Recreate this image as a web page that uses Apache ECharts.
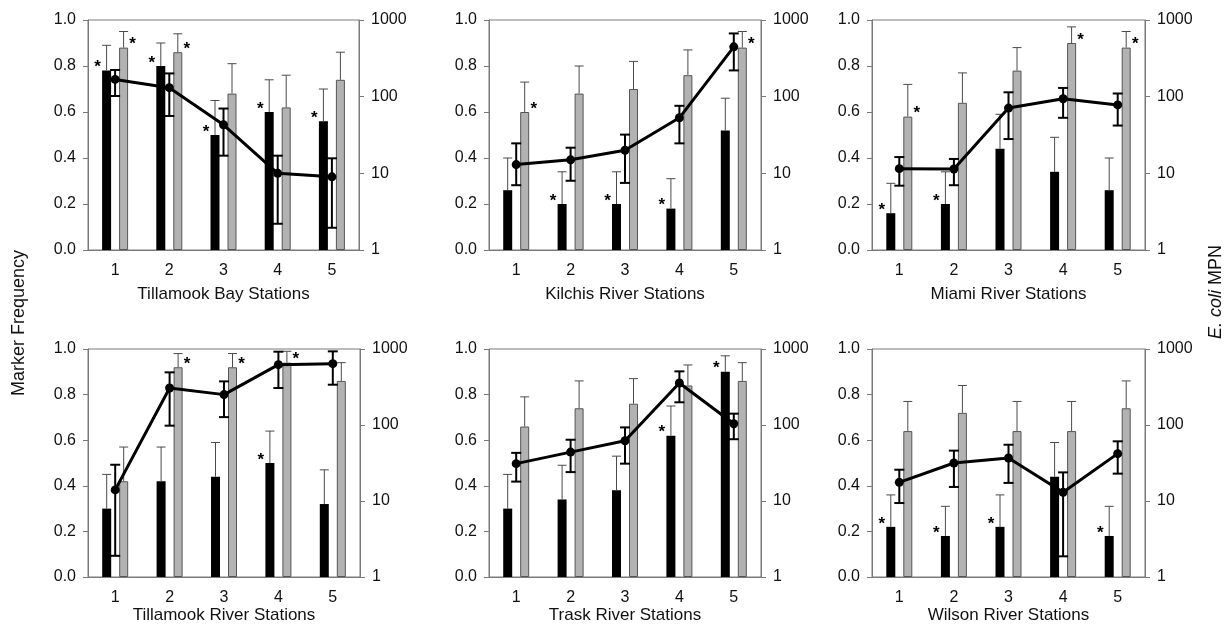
<!DOCTYPE html>
<html><head><meta charset="utf-8">
<script src="https://cdn.jsdelivr.net/npm/echarts@6/dist/echarts.min.js"></script>
<style>html,body{margin:0;padding:0;background:#fff}#c{width:1226px;height:626px}</style>
</head><body><div id="c"></div>
<script>
// ---------- data ----------
const stations = ['1', '2', '3', '4', '5'];
const panelTitles = ['Tillamook Bay Stations', 'Kilchis River Stations', 'Miami River Stations',
  'Tillamook River Stations', 'Trask River Stations', 'Wilson River Stations'];
const freqAxisName = 'Marker Frequency';
const mpnAxisName = 'E. coli MPN';

// black bars (marker frequency) and their upper error limits
const blackFreq = [
  [0.78, 0.80, 0.50, 0.60, 0.56],
  [0.26, 0.20, 0.20, 0.18, 0.52],
  [0.16, 0.20, 0.44, 0.34, 0.26],
  [0.30, 0.42, 0.44, 0.50, 0.32],
  [0.30, 0.34, 0.38, 0.62, 0.90],
  [0.22, 0.18, 0.22, 0.44, 0.18]
];
const blackUpper = [
  [0.89, 0.90, 0.65, 0.74, 0.70],
  [0.40, 0.34, 0.34, 0.31, 0.66],
  [0.29, 0.34, 0.59, 0.49, 0.40],
  [0.45, 0.57, 0.59, 0.64, 0.47],
  [0.45, 0.49, 0.53, 0.75, 0.97],
  [0.36, 0.31, 0.36, 0.59, 0.31]
];
// grey bars (marker frequency) and their upper error limits
const greyFreq = [
  [0.88, 0.86, 0.68, 0.62, 0.74],
  [0.60, 0.68, 0.70, 0.76, 0.88],
  [0.58, 0.64, 0.78, 0.90, 0.88],
  [0.42, 0.92, 0.92, 0.94, 0.86],
  [0.66, 0.74, 0.76, 0.84, 0.86],
  [0.64, 0.72, 0.64, 0.64, 0.74]
];
const greyUpper = [
  [0.95, 0.94, 0.81, 0.76, 0.86],
  [0.73, 0.80, 0.82, 0.87, 0.95],
  [0.72, 0.77, 0.88, 0.97, 0.95],
  [0.57, 0.98, 0.98, 0.99, 0.94],
  [0.79, 0.86, 0.87, 0.93, 0.94],
  [0.77, 0.84, 0.77, 0.77, 0.86]
];
// E. coli MPN (line, log axis) with lower / upper error limits
const mpn = [
  [168, 131, 43, 10, 9],
  [13, 15, 20, 53, 447],
  [11.5, 11.4, 71, 94, 78],
  [14, 307, 251, 622, 641],
  [31, 44, 62, 357, 104],
  [17.6, 31.6, 36.8, 13, 42]
];
const mpnUpper = [
  [223, 201, 70, 17, 15.7],
  [24.6, 21.6, 32, 76, 668],
  [16.3, 15.4, 114, 130, 110],
  [30, 493, 375, 922, 931],
  [43, 64, 93, 508, 141],
  [25.8, 46, 55, 23.8, 61]
];
const mpnLower = [
  [102, 56, 17, 2.2, 1.95],
  [7, 8, 7.5, 24.6, 220],
  [6.9, 7, 28, 53, 42],
  [1.9, 98, 127, 307, 339],
  [18, 24, 31, 199, 65],
  [9.4, 15.3, 17.3, 1.87, 22.9]
];
// significance asterisks (1 = shown)
const blackStar = [
  [1, 1, 1, 1, 1],
  [0, 1, 1, 1, 0],
  [1, 1, 0, 0, 0],
  [0, 0, 0, 1, 0],
  [0, 0, 0, 1, 1],
  [1, 1, 1, 0, 1]
];
const greyStar = [
  [1, 1, 0, 0, 0],
  [1, 0, 0, 0, 1],
  [1, 0, 0, 1, 1],
  [0, 1, 1, 1, 0],
  [0, 0, 0, 0, 0],
  [0, 0, 0, 0, 0]
];

// ---------- layout / style ----------
const FONT = '"Liberation Sans", Arial, sans-serif';
const AXIS_COLOR = '#7a7a7a';
const TEXT_COLOR = '#111';
const BAR_W = 9, BAR_GAP = 8;
const HALF = (BAR_W + BAR_GAP) / 2;
const boxes = [
  { left: 88, top: 20, width: 271, height: 230 },
  { left: 489, top: 20, width: 272, height: 230 },
  { left: 872, top: 20, width: 273, height: 230 },
  { left: 88, top: 349, width: 272, height: 228 },
  { left: 489, top: 349, width: 272, height: 228 },
  { left: 872, top: 349, width: 273, height: 228 }
];

function barErr(offset, side) {
  return function (params, api) {
    const i = api.value(0);
    const top = api.coord([i, api.value(1)]);
    const cap = api.coord([i, api.value(2)]);
    const x = top[0] + offset;
    const ls = { stroke: '#4a4a4a', lineWidth: 1 };
    const ch = [
      { type: 'line', shape: { x1: x, y1: top[1], x2: x, y2: cap[1] }, style: ls },
      { type: 'line', shape: { x1: x - BAR_W / 2, y1: cap[1], x2: x + BAR_W / 2, y2: cap[1] }, style: ls }
    ];
    if (api.value(3)) {
      ch.push({ type: 'text', x: x + side * (BAR_W / 2 + 4.5), y: top[1] - 3,
        style: { text: '*', fontSize: 17, fontWeight: 'bold', fontFamily: FONT, fill: '#000', align: 'center', verticalAlign: 'middle' } });
    }
    return { type: 'group', children: ch };
  };
}
function mpnErr(params, api) {
  const i = api.value(0);
  const hi = api.coord([i, api.value(1)]);
  const lo = api.coord([i, api.value(2)]);
  const x = hi[0];
  const ls = { stroke: '#000', lineWidth: 2 };
  return { type: 'group', children: [
    { type: 'line', shape: { x1: x, y1: lo[1], x2: x, y2: hi[1] }, style: ls },
    { type: 'line', shape: { x1: x - 5, y1: hi[1], x2: x + 5, y2: hi[1] }, style: ls },
    { type: 'line', shape: { x1: x - 5, y1: lo[1], x2: x + 5, y2: lo[1] }, style: ls }
  ] };
}

const grid = [], xAxis = [], yAxis = [], series = [];
boxes.forEach(function (b, k) {
  grid.push(Object.assign({ show: true, borderColor: AXIS_COLOR, borderWidth: 1, backgroundColor: 'transparent' }, b));
  xAxis.push({
    type: 'category', gridIndex: k, data: stations, boundaryGap: true,
    axisLine: { lineStyle: { color: AXIS_COLOR } },
    axisTick: { alignWithLabel: true, length: 5, lineStyle: { color: AXIS_COLOR } },
    axisLabel: { fontSize: 16, color: TEXT_COLOR, fontFamily: FONT, margin: 13 },
    name: panelTitles[k], nameLocation: 'middle', nameGap: k < 3 ? 36 : 28,
    nameTextStyle: { fontSize: 17, color: TEXT_COLOR, fontFamily: FONT }
  });
  yAxis.push({
    type: 'value', gridIndex: k, min: 0, max: 1, interval: 0.2, position: 'left',
    axisLine: { show: true, lineStyle: { color: AXIS_COLOR } },
    axisTick: { show: true, length: 5, lineStyle: { color: AXIS_COLOR } },
    axisLabel: { fontSize: 16, color: TEXT_COLOR, fontFamily: FONT, margin: 12, formatter: function (v) { return v.toFixed(1); } },
    splitLine: { show: false }
  });
  yAxis.push({
    type: 'log', logBase: 10, gridIndex: k, min: 1, max: 1000, position: 'right',
    axisLine: { show: true, lineStyle: { color: AXIS_COLOR } },
    axisTick: { show: true, length: 5, lineStyle: { color: AXIS_COLOR } },
    axisLabel: { fontSize: 16, color: TEXT_COLOR, fontFamily: FONT, margin: 12, formatter: function (v) { return String(Math.round(v)); } },
    splitLine: { show: false }, minorTick: { show: false }
  });
  const yL = 2 * k, yR = 2 * k + 1;
  series.push({
    type: 'bar', name: 'Marker A', xAxisIndex: k, yAxisIndex: yL, data: blackFreq[k],
    barWidth: BAR_W, barGap: (BAR_GAP / BAR_W * 100) + '%', itemStyle: { color: '#000' }, z: 2, silent: true
  });
  series.push({
    type: 'bar', name: 'Marker B', xAxisIndex: k, yAxisIndex: yL, data: greyFreq[k],
    barWidth: BAR_W, itemStyle: { color: '#b2b2b2', borderColor: '#555', borderWidth: 1 }, z: 2, silent: true
  });
  series.push({
    type: 'custom', xAxisIndex: k, yAxisIndex: yL, renderItem: barErr(-HALF, -1), z: 3, silent: true,
    encode: { x: 0, y: 1 },
    data: stations.map(function (s, i) { return [i, blackFreq[k][i], blackUpper[k][i], blackStar[k][i]]; })
  });
  series.push({
    type: 'custom', xAxisIndex: k, yAxisIndex: yL, renderItem: barErr(HALF, 1), z: 3, silent: true,
    encode: { x: 0, y: 1 },
    data: stations.map(function (s, i) { return [i, greyFreq[k][i], greyUpper[k][i], greyStar[k][i]]; })
  });
  series.push({
    type: 'custom', xAxisIndex: k, yAxisIndex: yR, renderItem: mpnErr, z: 4, silent: true,
    encode: { x: 0, y: 1 },
    data: stations.map(function (s, i) { return [i, mpnUpper[k][i], mpnLower[k][i]]; })
  });
  series.push({
    type: 'line', name: 'E. coli MPN', xAxisIndex: k, yAxisIndex: yR, data: mpn[k],
    symbol: 'circle', symbolSize: 9, itemStyle: { color: '#000' },
    lineStyle: { color: '#000', width: 3 }, z: 5, silent: true, animation: false
  });
});

const chart = echarts.init(document.getElementById('c'), null, { renderer: 'canvas' });
chart.setOption({
  animation: false,
  backgroundColor: '#fff',
  grid: grid, xAxis: xAxis, yAxis: yAxis, series: series,
  graphic: [
    { type: 'text', x: 19, y: 323, rotation: Math.PI / 2,
      style: { text: freqAxisName, fontSize: 18, fontFamily: FONT, fill: TEXT_COLOR, align: 'center', verticalAlign: 'middle' } },
    { type: 'text', x: 1216, y: 292, rotation: Math.PI / 2,
      style: { text: '{i|E. coli} MPN', fontSize: 18, fontFamily: FONT, fill: TEXT_COLOR, align: 'center', verticalAlign: 'middle',
        rich: { i: { fontStyle: 'italic', fontSize: 18, fontFamily: FONT, fill: TEXT_COLOR } } } }
  ]
});
</script></body></html>
